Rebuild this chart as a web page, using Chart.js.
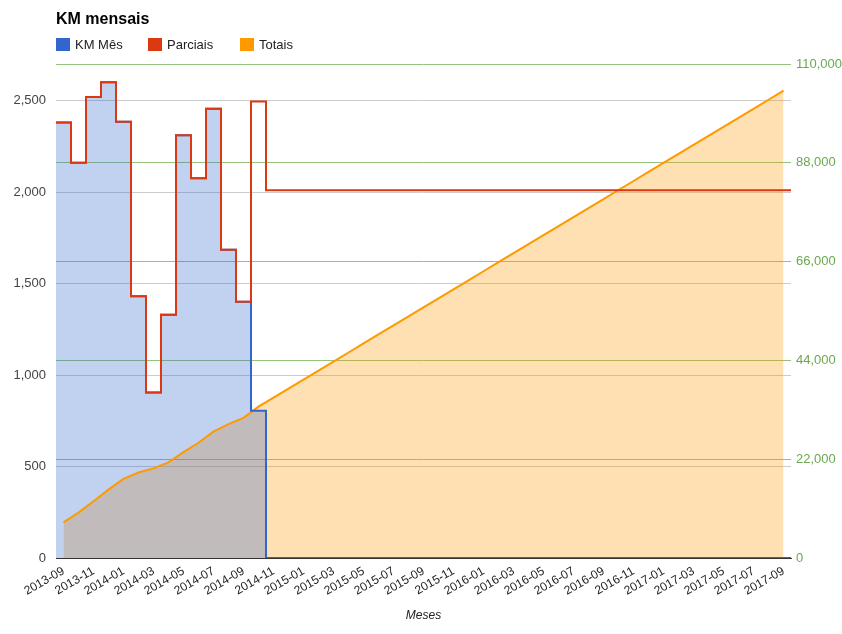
<!DOCTYPE html>
<html>
<head>
<meta charset="utf-8">
<title>KM mensais</title>
<script src="https://cdn.jsdelivr.net/npm/chart.js@4.4.1/dist/chart.umd.min.js"></script>
<style>
  body { margin: 0; background: #fff; font-family: Arial, "Liberation Sans", sans-serif; }
  #wrap { position: relative; width: 842px; height: 634px; }
  #titulo { position: absolute; left: 56px; top: 10px; font-size: 16px; font-weight: bold; color: #000; }
  #legenda { position: absolute; left: 56px; top: 37px; font-size: 13px; color: #222; }
  #legenda span.item { position: absolute; top: 0; white-space: nowrap; }
  #legenda i { display: inline-block; width: 14px; height: 13px; vertical-align: -2px; margin-right: 5px; }
</style>
</head>
<body>
<div id="wrap">
  <canvas id="kmChart"></canvas>
  <div id="titulo">KM mensais</div>
  <div id="legenda"></div>
</div>
<script>
// meses (categorias)
var meses = [
  "2013-09", "2013-10", "2013-11", "2013-12", "2014-01", "2014-02", "2014-03", "2014-04",
  "2014-05", "2014-06", "2014-07", "2014-08", "2014-09", "2014-10", "2014-11", "2014-12",
  "2015-01", "2015-02", "2015-03", "2015-04", "2015-05", "2015-06", "2015-07", "2015-08",
  "2015-09", "2015-10", "2015-11", "2015-12", "2016-01", "2016-02", "2016-03", "2016-04",
  "2016-05", "2016-06", "2016-07", "2016-08", "2016-09", "2016-10", "2016-11", "2016-12",
  "2017-01", "2017-02", "2017-03", "2017-04", "2017-05", "2017-06", "2017-07", "2017-08",
  "2017-09"
];

// km feitos em cada mes
var kmMes = [
  2380, 2160, 2520, 2600, 2385, 1430, 905, 1330, 2310, 2075, 2455, 1685, 1400, 805,
  0, 0, 0, 0, 0, 0, 0, 0, 0, 0, 0, 0, 0, 0, 0, 0, 0, 0, 0, 0, 0,
  0, 0, 0, 0, 0, 0, 0, 0, 0, 0, 0, 0, 0, 0
];

// parciais (previsao a partir de 2014-10)
var parciais = [
  2380, 2160, 2520, 2600, 2385, 1430, 905, 1330, 2310, 2075, 2455, 1685, 1400, 2495,
  2010, 2010, 2010, 2010, 2010, 2010, 2010, 2010, 2010, 2010, 2010, 2010, 2010, 2010,
  2010, 2010, 2010, 2010, 2010, 2010, 2010, 2010, 2010, 2010, 2010, 2010, 2010, 2010,
  2010, 2010, 2010, 2010, 2010, 2010, 2010
];

// totais acumulados (eixo da direita)
var totais = [
  7950, 10110, 12630, 15230, 17615, 19045, 19950, 21280, 23590, 25665, 28120, 29805,
  31205, 33700, 35710, 37720, 39730, 41740, 43750, 45760, 47770, 49780, 51790, 53800,
  55810, 57820, 59830, 61840, 63850, 65860, 67870, 69880, 71890, 73900, 75910, 77920,
  79930, 81940, 83950, 85960, 87970, 89980, 91990, 94000, 96010, 98020, 100030, 102040,
  104050
];

var ticksEsquerda = [0, 500, 1000, 1500, 2000, 2500];
var ticksDireita = [0, 22000, 44000, 66000, 88000, 110000];

var azul = '#3366cc', vermelho = '#dc3912', laranja = '#ff9900', verde = '#6aa84f';

// each month fills its whole band, so steps go from i-0.5 to i+0.5
function degraus(valores) {
  var pts = valores.map(function(v, i) { return { x: i - 0.5, y: v }; });
  pts.push({ x: valores.length - 0.5, y: valores[valores.length - 1] });
  return pts;
}

var series = [
  { label: 'KM Mês', cor: azul },
  { label: 'Parciais', cor: vermelho },
  { label: 'Totais', cor: laranja }
];

// legenda
var legenda = document.getElementById('legenda');
var posLegenda = [0, 92, 184];
series.forEach(function(s, i) {
  var el = document.createElement('span');
  el.className = 'item';
  el.style.left = posLegenda[i] + 'px';
  el.innerHTML = '<i style="background:' + s.cor + '"></i>' + s.label;
  legenda.appendChild(el);
});

Chart.defaults.font.family = 'Arial, "Liberation Sans", sans-serif';

var fmt = function(v) { return Number(v).toLocaleString('en-US'); };

new Chart(document.getElementById('kmChart').getContext('2d'), {
  type: 'line',
  data: {
    datasets: [
      {
        label: 'KM Mês',
        data: degraus(kmMes),
        yAxisID: 'y',
        stepped: true,
        borderColor: azul,
        backgroundColor: 'rgba(51,102,204,0.3)',
        borderWidth: 2,
        fill: 'origin',
        pointRadius: 0,
        order: 1
      },
      {
        label: 'Parciais',
        data: degraus(parciais),
        yAxisID: 'y',
        stepped: true,
        borderColor: vermelho,
        borderWidth: 2,
        fill: false,
        pointRadius: 0,
        order: 0
      },
      {
        label: 'Totais',
        data: totais.map(function(v, i) { return { x: i, y: v }; }),
        yAxisID: 'y1',
        borderColor: laranja,
        backgroundColor: 'rgba(255,153,0,0.3)',
        borderWidth: 2,
        fill: 'origin',
        tension: 0,
        pointRadius: 0,
        order: 2
      }
    ]
  },
  options: {
    responsive: true,
    maintainAspectRatio: false,
    animation: false,
    layout: { padding: { top: 64, left: 0, right: 0, bottom: 0 } },
    plugins: {
      legend: { display: false },
      tooltip: { enabled: false },
      filler: { drawTime: 'beforeDatasetsDraw' }
    },
    scales: {
      x: {
        type: 'linear',
        min: -0.5,
        max: meses.length - 0.5,
        afterBuildTicks: function(s) {
          s.ticks = meses.map(function(m, i) { return { value: i }; })
            .filter(function(t) { return t.value % 2 === 0; });
        },
        afterFit: function(s) { s.height = 76; },
        grid: { display: false, drawTicks: false },
        border: { color: '#333', width: 1 },
        ticks: {
          autoSkip: false,
          maxRotation: 30,
          minRotation: 30,
          padding: 6,
          color: '#222',
          font: { size: 12 },
          callback: function(v) { return meses[v]; }
        },
        title: {
          display: true,
          text: 'Meses',
          color: '#222',
          font: { size: 12, style: 'italic' },
          padding: { top: 0, bottom: 11 }
        }
      },
      y: {
        position: 'left',
        min: 0,
        max: 2700,
        afterBuildTicks: function(s) {
          s.ticks = ticksEsquerda.map(function(v) { return { value: v }; });
        },
        afterFit: function(s) { s.width = 56; },
        grid: {
          drawTicks: false,
          color: function(c) { return c.tick && c.tick.value === 0 ? 'rgba(0,0,0,0)' : '#cccccc'; }
        },
        border: { display: false },
        ticks: { padding: 10, color: '#444', font: { size: 13 }, callback: fmt }
      },
      y1: {
        position: 'right',
        min: 0,
        max: 110000,
        afterBuildTicks: function(s) {
          s.ticks = ticksDireita.map(function(v) { return { value: v }; });
        },
        afterFit: function(s) { s.width = 51; },
        grid: {
          drawTicks: false,
          color: function(c) { return c.tick && c.tick.value === 0 ? 'rgba(0,0,0,0)' : '#93c47d'; }
        },
        border: { display: false },
        ticks: { padding: 5, color: verde, font: { size: 13 }, callback: fmt }
      }
    }
  }
});
</script>
</body>
</html>
